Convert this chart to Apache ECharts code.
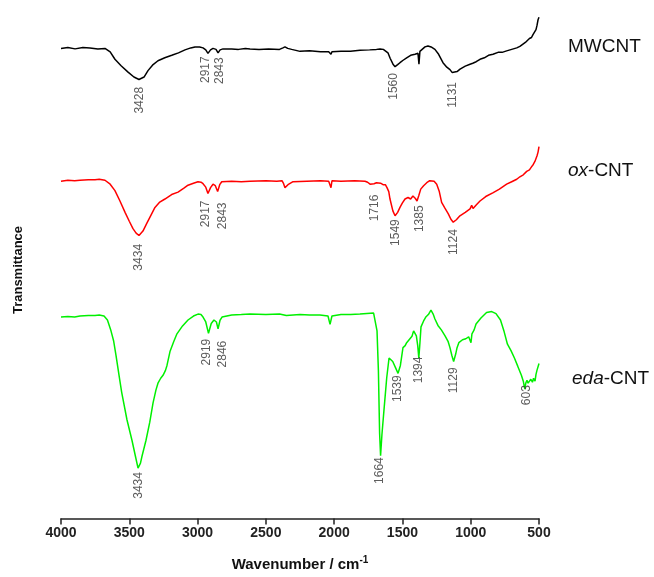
<!DOCTYPE html>
<html>
<head>
<meta charset="utf-8">
<script src="https://cdn.jsdelivr.net/npm/echarts@6/dist/echarts.min.js"></script>
<style>
html,body{margin:0;padding:0;background:#fff;}
#chart{width:654px;height:577px;}
</style>
</head>
<body>
<div id="chart"></div>
<script>
// Wavenumber (cm-1) vs transmittance (arbitrary, offset units)
var mwcnt = [
[4000,95.2],[3950,95.4],[3897,95.1],[3840,95.4],[3788,95.3],[3730,95.1],[3678,95.2],[3640,94.5],[3605,93.0],[3560,91.7],[3509,90.4],[3466,89.4],[3429,88.9],[3392,89.4],[3363,90.7],[3330,91.8],[3290,92.7],[3240,93.3],[3189,93.8],[3140,94.3],[3092,94.9],[3050,95.3],[3019,95.5],[2985,95.5],[2960,95.3],[2940,94.9],[2924,94.2],[2905,94.9],[2887,95.2],[2865,95.0],[2850,94.3],[2835,94.9],[2814,95.1],[2750,95.1],[2700,95.0],[2650,95.2],[2616,95.1],[2550,95.0],[2480,95.1],[2400,95.0],[2375,95.3],[2360,95.5],[2340,95.2],[2311,95.0],[2250,94.6],[2180,94.7],[2100,94.5],[2040,94.5],[2030,94.4],[2023,94.0],[2016,94.5],[1950,94.6],[1880,94.6],[1811,94.8],[1740,94.9],[1690,95.0],[1664,95.1],[1640,95.0],[1628,94.9],[1606,94.3],[1590,93.2],[1569,92.0],[1554,91.5],[1535,91.9],[1518,92.3],[1495,92.8],[1469,93.3],[1440,93.8],[1408,94.0],[1386,94.2],[1379,92.0],[1372,94.6],[1359,95.0],[1335,95.5],[1313,95.7],[1290,95.5],[1262,95.0],[1235,94.0],[1203,92.3],[1175,91.4],[1152,90.9],[1135,90.3],[1122,90.0],[1100,90.5],[1078,91.0],[1040,91.6],[1005,92.0],[995,91.6],[985,92.2],[960,92.5],[932,93.0],[900,93.3],[870,93.8],[837,94.0],[800,94.4],[770,94.4],[737,94.7],[700,95.0],[663,95.3],[640,95.6],[620,96.0],[600,96.4],[590,96.7],[570,97.2],[555,97.4],[544,98.0],[535,98.3],[522,99.0],[515,99.8],[507,101.0],[503,100.8],[500,101.5]
];
var oxcnt = [
[4000,68.3],[3950,68.5],[3900,68.4],[3861,68.5],[3800,68.6],[3751,68.6],[3720,68.7],[3678,68.5],[3640,67.7],[3605,66.4],[3570,64.4],[3531,62.0],[3500,60.2],[3473,58.7],[3450,57.8],[3429,57.3],[3400,58.2],[3373,59.7],[3340,61.5],[3312,63.0],[3280,64.0],[3239,64.7],[3190,65.6],[3143,66.1],[3100,66.9],[3070,67.5],[3030,67.9],[2997,68.2],[2975,68.1],[2960,67.8],[2940,67.1],[2924,65.8],[2905,67.0],[2887,67.7],[2870,67.4],[2853,66.2],[2838,67.6],[2823,68.2],[2750,68.3],[2680,68.2],[2616,68.3],[2500,68.4],[2420,68.3],[2382,68.4],[2370,67.8],[2360,67.0],[2338,67.6],[2301,68.2],[2200,68.3],[2100,68.4],[2040,68.3],[2030,68.2],[2023,67.0],[2016,68.4],[1950,68.3],[1850,68.4],[1774,68.3],[1755,68.1],[1737,67.7],[1708,67.8],[1690,68.0],[1679,68.1],[1660,67.9],[1642,67.6],[1625,67.6],[1613,67.0],[1600,66.2],[1591,64.7],[1570,62.3],[1554,61.3],[1535,62.0],[1518,63.0],[1500,63.9],[1481,64.7],[1459,65.0],[1440,64.7],[1423,65.3],[1405,64.8],[1393,64.3],[1380,65.4],[1366,66.7],[1345,67.4],[1322,68.0],[1300,68.4],[1286,68.5],[1268,68.3],[1249,67.7],[1230,66.2],[1213,64.0],[1190,62.9],[1164,61.7],[1145,60.6],[1128,60.0],[1105,60.5],[1079,61.3],[1040,62.0],[1005,62.7],[993,63.4],[983,62.8],[960,63.5],[932,64.3],[890,65.2],[835,66.0],[790,66.7],[737,67.7],[700,68.2],[663,68.7],[640,69.2],[615,69.6],[590,70.3],[570,70.6],[555,71.2],[542,71.7],[530,72.3],[515,73.4],[507,74.2],[500,75.3]
];
var edacnt = [
[4000,40.8],[3950,40.9],[3900,40.8],[3861,41.0],[3800,41.1],[3751,41.1],[3720,41.2],[3685,41.0],[3660,40.2],[3634,38.0],[3615,36.0],[3597,33.0],[3575,29.0],[3556,25.6],[3517,20.0],[3480,15.8],[3455,12.6],[3436,10.2],[3418,11.2],[3407,12.6],[3378,15.8],[3350,19.5],[3326,23.4],[3305,26.0],[3290,27.4],[3270,28.4],[3253,29.0],[3235,30.0],[3224,31.0],[3202,33.8],[3175,35.8],[3151,37.4],[3110,39.0],[3070,40.2],[3030,41.0],[2997,41.4],[2975,41.3],[2960,40.8],[2940,39.8],[2920,37.5],[2900,39.5],[2880,40.2],[2862,39.8],[2850,38.4],[2836,40.1],[2821,40.8],[2750,41.2],[2680,41.3],[2616,41.4],[2500,41.3],[2400,41.4],[2350,41.1],[2250,41.3],[2180,41.2],[2104,41.2],[2045,41.0],[2030,39.3],[2016,41.0],[1950,41.3],[1880,41.3],[1811,41.4],[1760,41.5],[1711,41.6],[1700,41.3],[1686,38.0],[1676,30.0],[1667,17.2],[1660,12.7],[1650,17.0],[1635,22.0],[1615,28.5],[1598,32.5],[1585,32.3],[1571,31.8],[1550,30.5],[1532,29.4],[1515,31.0],[1496,34.6],[1480,35.0],[1469,35.6],[1455,35.8],[1445,36.4],[1430,36.9],[1418,38.0],[1408,37.8],[1398,37.0],[1388,35.0],[1380,32.5],[1372,35.5],[1364,38.8],[1345,40.0],[1329,40.8],[1310,41.3],[1291,42.2],[1275,41.4],[1262,40.4],[1240,39.1],[1215,38.2],[1188,37.0],[1165,35.8],[1152,34.6],[1138,33.0],[1125,31.8],[1110,33.3],[1100,34.6],[1087,35.6],[1060,36.2],[1036,36.4],[1015,36.8],[1005,37.0],[998,35.6],[991,37.4],[975,38.2],[961,39.4],[925,40.6],[884,41.7],[865,41.8],[846,41.9],[815,41.5],[782,40.2],[755,37.8],[731,35.3],[705,34.0],[680,32.5],[655,30.8],[629,29.0],[615,27.8],[604,26.2],[596,27.5],[588,28.0],[580,27.4],[573,27.4],[560,28.2],[548,27.6],[540,28.4],[529,27.8],[522,29.2],[515,30.0],[508,30.1],[500,31.4]
];

// Peak annotations: [wavenumber of label, transmittance at label top, text]
var mwcntPeaks = [[3422,87.4,'3428'],[2941,93.6,'2917'],[2836,93.4,'2843'],[1562,90.2,'1560'],[1130,88.4,'1131']];
var oxPeaks = [[3429,55.6,'3434'],[2941,64.4,'2917'],[2816,64.0,'2843'],[1706,65.6,'1716'],[1547,60.6,'1549'],[1377,63.4,'1385'],[1122,58.6,'1124']];
var edaPeaks = [[3429,9.4,'3434'],[2933,36.4,'2919'],[2816,36.0,'2846'],[1664,12.4,'1664'],[1532,29.0,'1539'],[1379,32.8,'1394'],[1122,30.6,'1129'],[590,27.0,'603']];

var xTicks = [4000,3500,3000,2500,2000,1500,1000,500];
var seriesNames = ['MWCNT','ox-CNT','eda-CNT'];

var FONT = '"Liberation Sans", Arial, sans-serif';

function peakSeries(peaks){
  return {
    type:'scatter',
    symbolSize:0,
    silent:true,
    data: peaks.map(function(p){ return {value:[p[0],p[1]], name:p[2]}; }),
    label:{
      show:true,
      formatter:function(d){ return d.name; },
      position:'inside',
      rotate:90,
      align:'right',
      verticalAlign:'middle',
      fontFamily:FONT,
      fontSize:12,
      color:'#333'
    },
    z:5
  };
}

var chart = echarts.init(document.getElementById('chart'));
chart.setOption({
  animation:false,
  backgroundColor:'#fff',
  grid:{left:61,right:115,top:0,bottom:52},
  xAxis:{
    type:'value',
    inverse:true,
    min:500,max:4000,interval:500,
    axisLine:{lineStyle:{color:'#222',width:1.5}},
    axisTick:{show:true,length:6,lineStyle:{color:'#222',width:1.5}},
    splitLine:{show:false},
    axisLabel:{
      fontFamily:FONT,fontSize:14,fontWeight:'bold',color:'#222',margin:8,
      formatter:function(v){ return xTicks.indexOf(v)>=0 ? String(v) : ''; }
    },
    name:'{a|Wavenumber / cm}{s|-1}',
    nameLocation:'middle',
    nameGap:37,
    nameTextStyle:{
      rich:{
        a:{fontFamily:FONT,fontSize:15,fontWeight:'bold',color:'#111'},
        s:{fontFamily:FONT,fontSize:10,fontWeight:'bold',color:'#111',verticalAlign:'top',padding:[0,0,8,0]}
      }
    }
  },
  yAxis:{type:'value',min:0,max:105,show:false},
  series:[
    {name:seriesNames[0],type:'line',data:mwcnt,showSymbol:false,lineStyle:{color:'#000',width:1.5},itemStyle:{color:'#000'}},
    {name:seriesNames[1],type:'line',data:oxcnt,showSymbol:false,lineStyle:{color:'#ff0000',width:1.5},itemStyle:{color:'#ff0000'}},
    {name:seriesNames[2],type:'line',data:edacnt,showSymbol:false,lineStyle:{color:'#00f000',width:1.5},itemStyle:{color:'#00f000'}},
    peakSeries(mwcntPeaks),
    peakSeries(oxPeaks),
    peakSeries(edaPeaks)
  ],
  graphic:[
    {type:'text',left:568,top:37,style:{text:'MWCNT',font:'19px '+FONT,fill:'#111'}},
    {type:'text',left:568,top:161,style:{text:'{i|ox}{n|-CNT}',rich:{i:{fontStyle:'italic',fontSize:19,fontFamily:FONT,fill:'#111'},n:{fontSize:19,fontFamily:FONT,fill:'#111'}}}},
    {type:'text',left:572,top:369,style:{text:'{i|eda}{n|-CNT}',rich:{i:{fontStyle:'italic',fontSize:19,fontFamily:FONT,fill:'#111'},n:{fontSize:19,fontFamily:FONT,fill:'#111'}}}},
    {type:'text',x:18,y:270,rotation:Math.PI/2,style:{text:'Transmittance',font:'bold 13px '+FONT,fill:'#111',align:'center',verticalAlign:'middle'}}
  ]
});
</script>
</body>
</html>
